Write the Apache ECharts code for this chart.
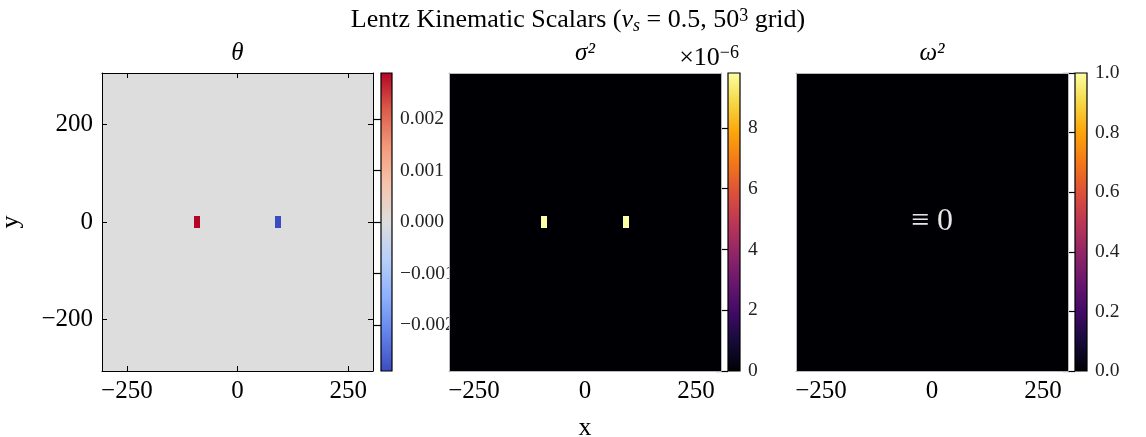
<!DOCTYPE html>
<html><head><meta charset="utf-8">
<script src="https://cdn.jsdelivr.net/npm/echarts@6/dist/echarts.min.js"></script>
<style>html,body{margin:0;padding:0;background:#fff}#c{width:1146px;height:437px}</style>
</head><body><div id="c"></div>
<script>
// ---- data ----
const gridN = 50;               // 50 cells per side
const gridMin = -300, gridMax = 300;   // cell-centre extent
const xTicks = [-250, 0, 250];
const yTicks = [-200, 0, 200];
// non-zero cells: [ix, iy, value]; every other cell is 0
const thetaCells = [[17, 24, 0.0029], [17, 25, 0.0029], [32, 24, -0.0029], [32, 25, -0.0029]];
const sigmaCells = [[17, 24, 9.81e-6], [17, 25, 9.81e-6], [32, 24, 9.81e-6], [32, 25, 9.81e-6]];
const omegaCells = [];
const thetaRange = [-0.0029, 0.0029];
const sigmaRange = [0, 9.81e-6];
const omegaRange = [0, 1];
const thetaTicks = [-0.002, -0.001, 0, 0.001, 0.002];
const sigmaTicks = [0, 2e-6, 4e-6, 6e-6, 8e-6];
const omegaTicks = [0, 0.2, 0.4, 0.6, 0.8, 1.0];
const panelTitles = ['θ', 'σ²', 'ω²'];
const annotation = '≡ 0';

const FONT = 'Liberation Serif';
const coolwarm = ['#3b4cc0', '#6282ea', '#8db0fe', '#b7cff9', '#dddddd', '#f5c4ac', '#f49a7b', '#dc5d4a', '#b40426'];
const inferno = ['#000004', '#160b39', '#420a68', '#6a176e', '#932667', '#bc3754', '#dd513a', '#f37819', '#fca50a', '#f6d746', '#fcffa4'];

const step = (gridMax - gridMin) / (gridN - 1);
const ext = [gridMin - step / 2, gridMax + step / 2];

function buildCells(cells) {
  const vals = {};
  cells.forEach(c => { vals[c[0] + '_' + c[1]] = c[2]; });
  const out = [];
  for (let iy = 0; iy < gridN; iy++) for (let ix = 0; ix < gridN; ix++) {
    const v = vals[ix + '_' + iy];
    out.push([gridMin + ix * step, gridMin + iy * step, v === undefined ? 0 : v]);
  }
  return out;
}
const panelData = [buildCells(thetaCells), buildCells(sigmaCells), buildCells(omegaCells)];
const ranges = [thetaRange, sigmaRange, omegaRange];
const cmaps = [coolwarm, inferno, inferno];
const cbTicks = [thetaTicks, sigmaTicks, omegaTicks];
const cbFmt = [
  v => v.toFixed(3).replace('-', '−'),
  v => String(Math.round(v / 1e-6)),
  v => v.toFixed(1)
];

const panels = [{ left: 102, width: 271 }, { left: 449, width: 272 }, { left: 796, width: 272 }];
const cbars = [{ left: 381, width: 11 }, { left: 728, width: 12 }, { left: 1075, width: 12 }];
const TOP = 73, H = 298;
const minus = v => String(v).replace('-', '−');

const grid = [], xAxis = [], yAxis = [], series = [], visualMap = [], title = [];

panels.forEach(p => grid.push({ left: p.left, top: TOP, width: p.width, height: H, containLabel: false, outerBoundsMode: 'none' }));
cbars.forEach(c => grid.push({ left: c.left, top: TOP, width: c.width, height: H, containLabel: false, outerBoundsMode: 'none' }));

panels.forEach((p, i) => {
  const light = i === 0;
  const frame = light ? '#000' : '#b8b8b8';
  const tick = { show: light, inside: true, length: 5, lineStyle: { color: '#000', width: 1 } };
  const base = { type: 'value', gridIndex: i, min: ext[0], max: ext[1], splitLine: { show: false }, z: 3,
    axisLine: { show: true, onZero: false, lineStyle: { color: frame, width: 1 } } };
  xAxis.push(Object.assign({}, base, { position: 'bottom',
    axisTick: Object.assign({}, tick, { customValues: xTicks }),
    axisLabel: { customValues: xTicks, formatter: minus, fontFamily: FONT, fontSize: 25, color: '#000', margin: 8 },
    name: i === 1 ? 'x' : '', nameLocation: 'middle', nameGap: 44,
    nameTextStyle: { fontFamily: FONT, fontSize: 26, color: '#000' } }));
  xAxis.push(Object.assign({}, base, { position: 'top',
    axisTick: Object.assign({}, tick, { customValues: xTicks }), axisLabel: { show: false } }));
  yAxis.push(Object.assign({}, base, { position: 'left',
    axisTick: Object.assign({}, tick, { customValues: yTicks }),
    axisLabel: { show: light, customValues: yTicks, formatter: minus, fontFamily: FONT, fontSize: 25, color: '#000', margin: 9 },
    name: i === 0 ? 'y' : '', nameLocation: 'middle', nameGap: 78,
    nameTextStyle: { fontFamily: FONT, fontSize: 26, color: '#000' } }));
  yAxis.push(Object.assign({}, base, { position: 'right',
    axisTick: Object.assign({}, tick, { customValues: yTicks }), axisLabel: { show: false } }));
});

cbars.forEach((c, i) => {
  const g = 3 + i;
  xAxis.push({ type: 'value', gridIndex: g, min: 0, max: 1, show: false });
  yAxis.push({ type: 'value', gridIndex: g, position: 'right', min: ranges[i][0], max: ranges[i][1], z: 1.5,
    axisLine: { show: false }, splitLine: { show: false },
    axisTick: { show: true, inside: true, length: c.width, customValues: cbTicks[i], lineStyle: { color: '#000', width: 1.2 } },
    axisLabel: { customValues: cbTicks[i], formatter: cbFmt[i], fontFamily: FONT, fontSize: 19.5, color: '#222', margin: 8 } });
});

// image panels
panelData.forEach((d, i) => {
  series.push({
    type: 'custom', xAxisIndex: 2 * i, yAxisIndex: 2 * i, data: d, encode: { x: 0, y: 1 }, z: 2, clip: true,
    renderItem: (params, api) => {
      const x = api.value(0), y = api.value(1);
      const a = api.coord([x - step / 2, y + step / 2]);
      const b = api.coord([x + step / 2, y - step / 2]);
      const x0 = Math.round(a[0]), y0 = Math.round(a[1]);
      const x1 = Math.round(b[0]), y1 = Math.round(b[1]);
      return { type: 'rect', shape: { x: x0, y: y0, width: x1 - x0, height: y1 - y0 },
        style: { fill: api.visual('color') } };
    }
  });
  visualMap.push({ type: 'continuous', show: false, seriesIndex: i, dimension: 2,
    min: ranges[i][0], max: ranges[i][1], inRange: { color: cmaps[i] } });
});

// colour bars
cbars.forEach((c, i) => {
  const stops = cmaps[i].map((col, k) => ({ offset: k / (cmaps[i].length - 1), color: col }));
  series.push({
    type: 'custom', xAxisIndex: 6 + i, yAxisIndex: 6 + i, z: 1, data: [[ranges[i][0], ranges[i][1]]],
    encode: { y: [0, 1] },
    renderItem: (params, api) => {
      const a = api.coord([0, api.value(1)]);
      const b = api.coord([1, api.value(0)]);
      return { type: 'rect', shape: { x: a[0], y: a[1], width: b[0] - a[0], height: b[1] - a[1] },
        style: { fill: new echarts.graphic.LinearGradient(0, 1, 0, 0, stops), stroke: '#000', lineWidth: 1.2 } };
    }
  });
});

// annotation in omega panel
series.push({
  type: 'custom', xAxisIndex: 4, yAxisIndex: 4, z: 5, data: [[0, 0]], encode: { x: 0, y: 1 },
  renderItem: (params, api) => {
    const p = api.coord([api.value(0), api.value(1)]);
    return { type: 'text', x: p[0], y: p[1],
      style: { text: annotation, fill: '#e6e6e6', font: '32px "' + FONT + '"', align: 'center', verticalAlign: 'middle' } };
  }
});

title.push({
  text: 'Lentz Kinematic Scalars ({i|v}{sub|s} = 0.5, 50{sup|3} grid)', left: 578, top: 6, textAlign: 'center', padding: 0,
  textStyle: { fontFamily: FONT, fontSize: 26, fontWeight: 'normal', color: '#000',
    rich: { i: { fontFamily: FONT, fontSize: 26, fontStyle: 'italic', color: '#000' },
            sub: { fontFamily: FONT, fontSize: 18, fontStyle: 'italic', color: '#000', padding: [11, 0, 0, 0] },
            sup: { fontFamily: FONT, fontSize: 18, color: '#000', padding: [0, 0, 9, 0] } } }
});
panels.forEach((p, i) => {
  title.push({ text: panelTitles[i], left: p.left + p.width / 2, top: 41, textAlign: 'center', padding: 0,
    textStyle: { fontFamily: FONT, fontSize: 25, fontStyle: 'italic', fontWeight: 'normal', color: '#000' } });
});
// colour-bar offset label
title.push({ text: '×10{s|−6}', right: 1146 - 739, top: 44, padding: 0,
  textStyle: { fontFamily: FONT, fontSize: 26, fontWeight: 'normal', color: '#000',
    rich: { s: { fontFamily: FONT, fontSize: 18, color: '#000', padding: [0, 0, 11, 0] } } } });

const chart = echarts.init(document.getElementById('c'), null, { renderer: 'canvas' });
chart.setOption({ animation: false, backgroundColor: '#fff', title, grid, xAxis, yAxis, visualMap, series });
</script></body></html>
